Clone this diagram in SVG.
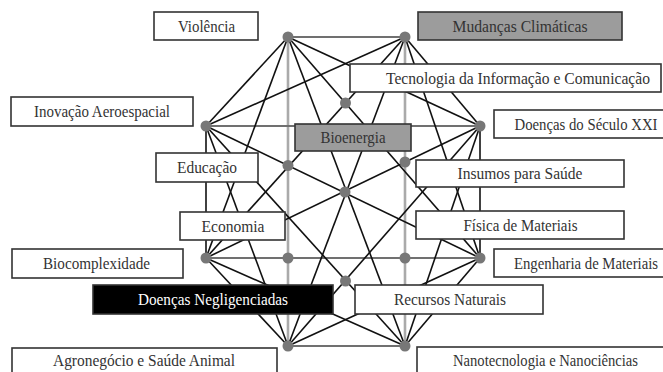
<svg xmlns="http://www.w3.org/2000/svg" width="663" height="372" viewBox="0 0 663 372">
<style>
.e{stroke:#111;stroke-width:1.6;fill:none}
.v{stroke:#aaa;stroke-width:2.6;fill:none}
.h{stroke:#707070;stroke-width:2;fill:none}
.b{fill:#fff;stroke:#333;stroke-width:1.6}
.g{fill:#9c9c9c;stroke:#333;stroke-width:1.6}
.k{fill:#000;stroke:#333;stroke-width:1.6}
.t{font-family:"Liberation Serif","DejaVu Serif",serif;font-size:16px;fill:#333;text-anchor:middle}
.w{fill:#fff}
.d{fill:#777}
</style>
<rect width="663" height="372" fill="#fff"/>
<g id="connectors">
<line class="v" x1="288" y1="37" x2="288" y2="346"/>
<line class="v" x1="405" y1="37" x2="405" y2="346"/>
<line class="h" x1="288" y1="37" x2="405" y2="37"/>
<line class="h" x1="206" y1="126" x2="480" y2="126"/>
<line class="h" x1="206" y1="258" x2="480" y2="258"/>
<line class="h" x1="288" y1="346" x2="405" y2="346"/>
<line class="e" x1="288" y1="37" x2="206" y2="126"/>
<line class="e" x1="288" y1="37" x2="480" y2="126"/>
<line class="e" x1="288" y1="37" x2="206" y2="258"/>
<line class="e" x1="288" y1="37" x2="480" y2="258"/>
<line class="e" x1="288" y1="37" x2="405" y2="346"/>
<line class="e" x1="405" y1="37" x2="206" y2="126"/>
<line class="e" x1="405" y1="37" x2="480" y2="126"/>
<line class="e" x1="405" y1="37" x2="206" y2="258"/>
<line class="e" x1="405" y1="37" x2="480" y2="258"/>
<line class="e" x1="405" y1="37" x2="288" y2="346"/>
<line class="e" x1="206" y1="126" x2="206" y2="258"/>
<line class="e" x1="206" y1="126" x2="480" y2="258"/>
<line class="e" x1="206" y1="126" x2="288" y2="346"/>
<line class="e" x1="206" y1="126" x2="405" y2="346"/>
<line class="e" x1="480" y1="126" x2="206" y2="258"/>
<line class="e" x1="480" y1="126" x2="480" y2="258"/>
<line class="e" x1="480" y1="126" x2="288" y2="346"/>
<line class="e" x1="480" y1="126" x2="405" y2="346"/>
<line class="e" x1="206" y1="258" x2="288" y2="346"/>
<line class="e" x1="206" y1="258" x2="405" y2="346"/>
<line class="e" x1="480" y1="258" x2="288" y2="346"/>
<line class="e" x1="480" y1="258" x2="405" y2="346"/>
</g>
<g id="n-violencia"><rect class="b" x="154" y="12" width="104" height="28"/><text class="t" x="206.5" y="31.5" textLength="57" lengthAdjust="spacingAndGlyphs">Violência</text></g>
<g id="n-mudancas"><rect class="g" x="418" y="12" width="204" height="28"/><text class="t" x="520" y="31.5" textLength="135" lengthAdjust="spacingAndGlyphs">Mudanças Climáticas</text></g>
<g id="n-inovacao"><rect class="b" x="11" y="97" width="182" height="29"/><text class="t" x="102" y="117" textLength="136" lengthAdjust="spacingAndGlyphs">Inovação Aeroespacial</text></g>
<g id="n-tecnologia"><rect class="b" x="350" y="64" width="311" height="28"/><text class="t" x="518" y="83.5" textLength="264" lengthAdjust="spacingAndGlyphs">Tecnologia da Informação e Comunicação</text></g>
<g id="n-doencas21"><rect class="b" x="494" y="110" width="180" height="28"/><text class="t" x="586" y="129.5" textLength="143" lengthAdjust="spacingAndGlyphs">Doenças do Século XXI</text></g>
<g id="n-bioenergia"><rect class="g" x="295" y="124" width="116" height="27"/><text class="t" x="353" y="143" textLength="65" lengthAdjust="spacingAndGlyphs">Bioenergia</text></g>
<g id="n-educacao"><rect class="b" x="156" y="153" width="102" height="29"/><text class="t" x="207" y="173" textLength="60" lengthAdjust="spacingAndGlyphs">Educação</text></g>
<g id="n-insumos"><rect class="b" x="416" y="160" width="208" height="27"/><text class="t" x="520" y="179" textLength="125" lengthAdjust="spacingAndGlyphs">Insumos para Saúde</text></g>
<g id="n-economia"><rect class="b" x="180" y="212" width="105" height="28"/><text class="t" x="233" y="231.5" textLength="63" lengthAdjust="spacingAndGlyphs">Economia</text></g>
<g id="n-fisica"><rect class="b" x="416" y="211" width="208" height="28"/><text class="t" x="520.5" y="230.5" textLength="114" lengthAdjust="spacingAndGlyphs">Física de Materiais</text></g>
<g id="n-biocomplexidade"><rect class="b" x="12" y="249" width="171" height="29"/><text class="t" x="96.5" y="269" textLength="107" lengthAdjust="spacingAndGlyphs">Biocomplexidade</text></g>
<g id="n-engenharia"><rect class="b" x="494" y="249" width="180" height="28"/><text class="t" x="586" y="268.5" textLength="144" lengthAdjust="spacingAndGlyphs">Engenharia de Materiais</text></g>
<g id="n-negligenciadas"><rect class="k" x="93" y="285" width="240" height="29"/><text class="t w" x="213" y="305" textLength="150" lengthAdjust="spacingAndGlyphs">Doenças Negligenciadas</text></g>
<g id="n-recursos"><rect class="b" x="355" y="285" width="188" height="29"/><text class="t" x="450" y="305" textLength="112" lengthAdjust="spacingAndGlyphs">Recursos Naturais</text></g>
<g id="n-agronegocio"><rect class="b" x="12" y="348" width="265" height="35"/><text class="t" x="144" y="366" textLength="182" lengthAdjust="spacingAndGlyphs">Agronegócio e Saúde Animal</text></g>
<g id="n-nanotecnologia"><rect class="b" x="417" y="347" width="260" height="35"/><text class="t" x="545.5" y="366" textLength="185" lengthAdjust="spacingAndGlyphs">Nanotecnologia e Nanociências</text></g>
<g id="points">
<circle class="d" cx="288" cy="37" r="5.5"/>
<circle class="d" cx="405" cy="37" r="5.5"/>
<circle class="d" cx="206" cy="126" r="5.5"/>
<circle class="d" cx="480" cy="126" r="5.5"/>
<circle class="d" cx="206" cy="258" r="5.5"/>
<circle class="d" cx="480" cy="258" r="5.5"/>
<circle class="d" cx="288" cy="346" r="5.5"/>
<circle class="d" cx="405" cy="346" r="5.5"/>
<circle class="d" cx="345.5" cy="103" r="5.5"/>
<circle class="d" cx="288" cy="165.5" r="5.5"/>
<circle class="d" cx="405" cy="162" r="5.5"/>
<circle class="d" cx="345" cy="192" r="5.5"/>
<circle class="d" cx="288" cy="258" r="5.5"/>
<circle class="d" cx="405" cy="258" r="5.5"/>
<circle class="d" cx="345.5" cy="281" r="5.5"/>
</g>
</svg>
